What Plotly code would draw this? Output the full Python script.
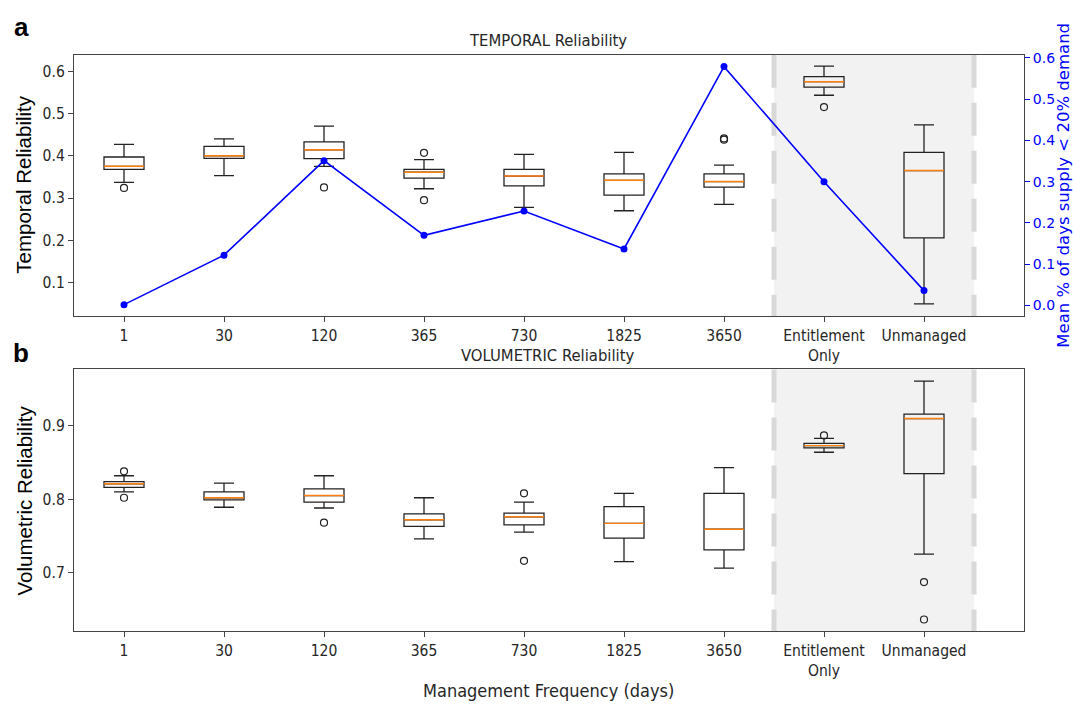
import plotly.graph_objects as go

# ---------------- data ----------------
categories = ["1", "30", "120", "365", "730", "1825", "3650", "Entitlement<br>Only", "Unmanaged"]
positions = [1, 2, 3, 4, 5, 6, 7, 8, 9]

# Temporal reliability box stats
t_upper = [0.427, 0.440, 0.470, 0.391, 0.403, 0.408, 0.378, 0.612, 0.473]
t_q3 = [0.397, 0.422, 0.433, 0.368, 0.368, 0.357, 0.357, 0.587, 0.408]
t_med = [0.375, 0.400, 0.414, 0.361, 0.352, 0.342, 0.339, 0.575, 0.365]
t_q1 = [0.368, 0.394, 0.393, 0.347, 0.329, 0.307, 0.326, 0.562, 0.206]
t_lower = [0.337, 0.353, 0.375, 0.322, 0.278, 0.270, 0.285, 0.543, 0.050]
t_outliers = [[0.324], [], [0.325], [0.407, 0.295], [], [], [0.438, 0.441], [0.515], []]

# Mean % of days supply < 20% demand (right axis)
low_supply = [0.002, 0.122, 0.351, 0.170, 0.229, 0.137, 0.579, 0.300, 0.036]

# Volumetric reliability box stats
v_upper = [0.832, 0.822, 0.832, 0.802, 0.796, 0.808, 0.843, 0.883, 0.961]
v_q3 = [0.824, 0.810, 0.814, 0.780, 0.781, 0.790, 0.808, 0.876, 0.916]
v_med = [0.821, 0.802, 0.805, 0.772, 0.776, 0.767, 0.759, 0.873, 0.910]
v_q1 = [0.816, 0.799, 0.796, 0.763, 0.765, 0.747, 0.731, 0.870, 0.835]
v_lower = [0.810, 0.789, 0.788, 0.746, 0.755, 0.715, 0.706, 0.864, 0.725]
v_outliers = [[0.838, 0.802], [], [0.768], [], [0.808, 0.716], [], [], [0.887], [0.687, 0.636]]

left_ticks_top = [0.1, 0.2, 0.3, 0.4, 0.5, 0.6]
right_ticks_top = [0.0, 0.1, 0.2, 0.3, 0.4, 0.5, 0.6]
ticks_bottom = [0.7, 0.8, 0.9]

# ---------------- style ----------------
BOX_W = 0.4
FONT = "DejaVu Sans Condensed, DejaVu Sans, sans-serif"
FONT_R = "DejaVu Sans, sans-serif"
TXT = "#262626"
FRAME = "#444444"
ORANGE = "#ff7f0e"
BLUE = "#0000ff"

fig = go.Figure()


def add_panel(xa, ya, upper, q3, med, q1, lower, outliers):
    fig.add_trace(go.Box(
        x=positions, q1=q1, median=med, q3=q3, lowerfence=lower, upperfence=upper,
        width=BOX_W, whiskerwidth=0.5, boxpoints=False,
        fillcolor="rgba(0,0,0,0)", line=dict(color="#222222", width=1.3),
        xaxis=xa, yaxis=ya, showlegend=False, hoverinfo="skip",
    ))
    mx, my = [], []
    for p, m in zip(positions, med):
        mx += [p - BOX_W / 2, p + BOX_W / 2, None]
        my += [m, m, None]
    fig.add_trace(go.Scatter(x=mx, y=my, mode="lines", line=dict(color=ORANGE, width=1.4),
                             xaxis=xa, yaxis=ya, showlegend=False, hoverinfo="skip"))
    ox, oy = [], []
    for p, vals in zip(positions, outliers):
        for v in vals:
            ox.append(p)
            oy.append(v)
    fig.add_trace(go.Scatter(x=ox, y=oy, mode="markers",
                             marker=dict(symbol="circle-open", size=7, color="#222222",
                                         line=dict(width=1.2)),
                             xaxis=xa, yaxis=ya, showlegend=False, hoverinfo="skip"))


add_panel("x", "y", t_upper, t_q3, t_med, t_q1, t_lower, t_outliers)
fig.add_trace(go.Scatter(x=positions, y=low_supply, mode="lines+markers",
                         line=dict(color=BLUE, width=1.6), marker=dict(color=BLUE, size=7),
                         xaxis="x", yaxis="y2", showlegend=False))
add_panel("x2", "y3", v_upper, v_q3, v_med, v_q1, v_lower, v_outliers)

# shaded region + dashed borders in both panels
shapes = []
for xr, yr in (("x", "y"), ("x2", "y3")):
    shapes.append(dict(type="rect", xref=xr, yref=yr + " domain", x0=7.5, x1=9.5, y0=0, y1=1,
                       fillcolor="#f2f2f2", line=dict(width=0), layer="below"))
    for xv in (7.5, 9.5):
        shapes.append(dict(type="line", xref=xr, yref=yr + " domain", x0=xv, x1=xv, y0=1, y1=0,
                           line=dict(color="#d9d9d9", width=5, dash="33px,15px"), layer="below"))

xdom = [74 / 1073, 1024 / 1073]
top_dom = [(704 - 313.3) / 704, (704 - 50) / 704]
bot_dom = [(704 - 630.7) / 704, (704 - 367) / 704]

axis_common = dict(showline=True, linecolor=FRAME, linewidth=1.3, mirror=True, ticks="outside",
                   ticklen=5, tickcolor=FRAME, showgrid=False, zeroline=False,
                   tickfont=dict(family=FONT, size=15.5, color=TXT))

fig.update_layout(
    width=1073, height=704, margin=dict(l=0, r=0, t=0, b=0),
    paper_bgcolor="white", plot_bgcolor="white", shapes=shapes,
    xaxis=dict(domain=xdom, anchor="y", range=[0.5, 10.0], tickvals=positions, ticktext=categories,
               **axis_common),
    yaxis=dict(domain=top_dom, anchor="x", range=[0.021, 0.639], tickvals=left_ticks_top,
               tickformat=".1f", **axis_common),
    yaxis2=dict(overlaying="y", anchor="x", side="right", range=[-0.0257, 0.608],
                tickvals=right_ticks_top, tickformat=".1f", ticks="outside", ticklen=5,
                tickcolor=BLUE, showgrid=False, zeroline=False, showline=False,
                tickfont=dict(family=FONT_R, size=14, color=BLUE)),
    xaxis2=dict(domain=xdom, anchor="y3", range=[0.5, 10.0], tickvals=positions, ticktext=categories,
                **axis_common),
    yaxis3=dict(domain=bot_dom, anchor="x2", range=[0.620, 0.977], tickvals=ticks_bottom,
                tickformat=".1f", **axis_common),
)

ann = [
    dict(text="<b>a</b>", x=21 / 1073, y=1 - 22 / 704, font=dict(family="Liberation Sans, Arial", size=26, color="black")),
    dict(text="<b>b</b>", x=21 / 1073, y=1 - 350 / 704, font=dict(family="Liberation Sans, Arial", size=26, color="black")),
    dict(text="TEMPORAL Reliability", x=548 / 1073, y=1 - 36 / 704, font=dict(family=FONT, size=16.5, color=TXT)),
    dict(text="VOLUMETRIC Reliability", x=548 / 1073, y=1 - 353 / 704, font=dict(family=FONT, size=16.5, color=TXT)),
    dict(text="Management Frequency (days)", x=548 / 1073, y=1 - 690 / 704, font=dict(family=FONT, size=18, color=TXT)),
    dict(text="Temporal Reliability", x=24 / 1073, y=1 - 181 / 704, textangle=-90,
         font=dict(family="Liberation Sans, Arial", size=20.5, color="black")),
    dict(text="Volumetric Reliability", x=24 / 1073, y=1 - 499 / 704, textangle=-90,
         font=dict(family="Liberation Sans, Arial", size=20.5, color="black")),
    dict(text="Mean % of days supply < 20% demand", x=1064 / 1073, y=1 - 182 / 704, textangle=-90,
         font=dict(family=FONT_R, size=16.5, color=BLUE)),
]
for a in ann:
    a.update(xref="paper", yref="paper", showarrow=False, xanchor="center", yanchor="middle")
fig.update_layout(annotations=ann)

fig.write_html("out.html", config={"displayModeBar": False},
               post_script="document.body.style.margin='0px';document.body.style.overflow='hidden';")
